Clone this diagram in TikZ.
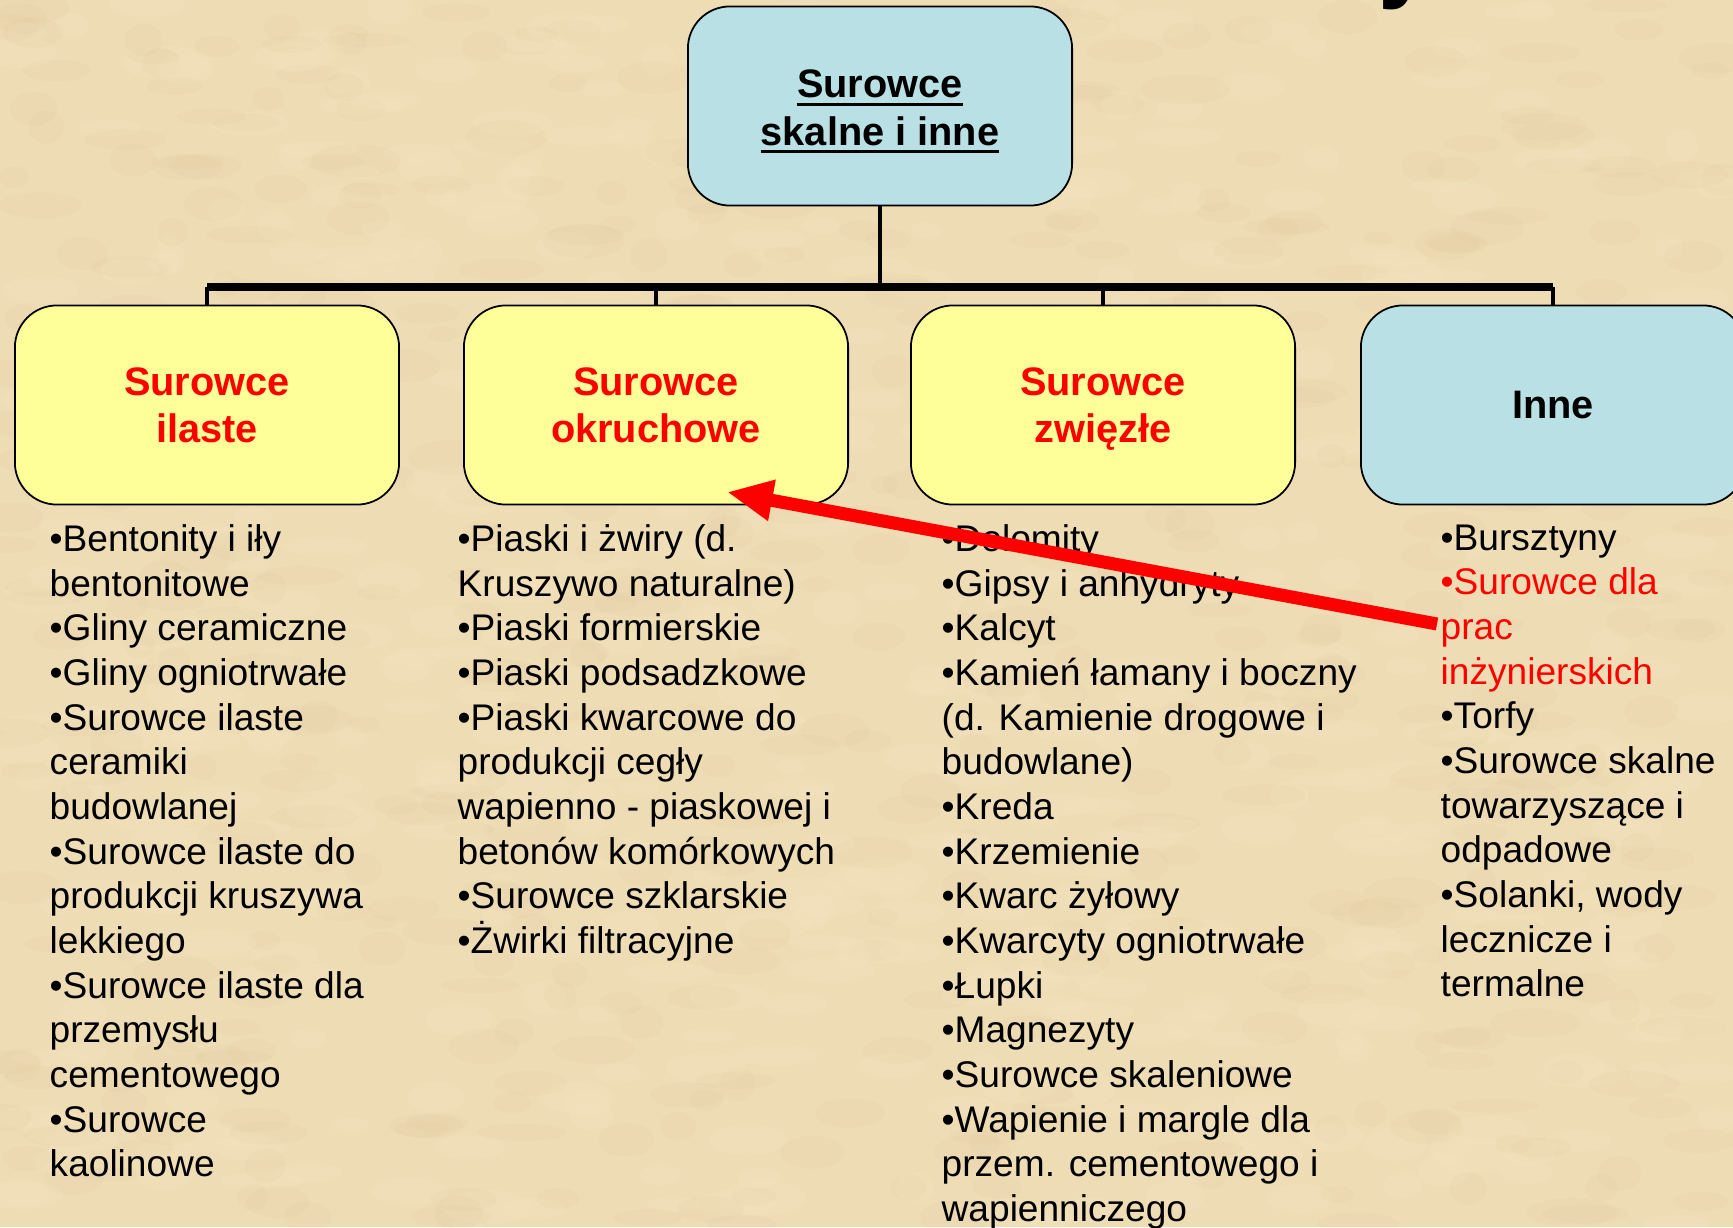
\documentclass[tikz,border=0pt]{standalone}
\usepackage{fontspec}
\setmainfont{Liberation Sans}
\usetikzlibrary{arrows.meta,positioning,calc}
\definecolor{tlo}{RGB}{238,220,180}
\definecolor{tlojasne}{RGB}{250,237,206}
\definecolor{tlociemne}{RGB}{214,188,142}
\definecolor{zolty}{RGB}{255,255,153}
\definecolor{blekit}{RGB}{185,224,228}
\newcommand{\podkresl}[1]{\vtop{\hbox{#1}\kern1.3pt\hrule height 0.85pt}}

\begin{document}
\begin{tikzpicture}[x=0.01cm, y=-0.01cm,
  kat/.style={draw=black, line width=0.5pt, rounded corners=0.42cm,
    minimum width=3.84cm, minimum height=1.99cm, inner sep=0pt,
    align=center, font=\fontsize{11.3}{13.5}\selectfont\bfseries},
  zolty/.style={kat, fill=zolty, text=red, text depth=0pt},
  niebieski/.style={kat, fill=blekit},
  lista/.style={anchor=north west, align=left, inner sep=0pt,
    font=\fontsize{10.55}{12.7}\selectfont},
  galaz/.style={line width=0.9pt},
  belka/.style={line width=2pt},
  strzalka/.style={red, line width=3.7pt, -{Triangle[length=13pt, width=11pt]}}]
\useasboundingbox (0,0) rectangle (1733,1227);
% ---- parchment background
\fill[tlo] (0,0) rectangle (1733,1227);
\pgfmathsetseed{11}
\foreach \i in {1,...,520}{
  \fill[tlociemne, opacity=0.08] ({rnd*1733},{rnd*1227})
    ellipse [x radius={4pt+rnd*9pt}, y radius={2pt+rnd*3pt}];
  \fill[tlojasne, opacity=0.12] ({rnd*1733},{rnd*1227})
    ellipse [x radius={4pt+rnd*9pt}, y radius={2pt+rnd*3pt}];
}
% ---- cut-off title
\node[anchor=base west, inner sep=0pt, font=\fontsize{28}{30}\selectfont\bfseries]
  (tytul) at (1378,-11) {y};
% ---- tree
\node[niebieski] (gora) at (880,106)
  {\rule{0pt}{11pt}\podkresl{Surowce}\\\podkresl{skalne i inne}};
\coordinate (szyna) at (880,287);
\node[zolty] (ilaste) at (207,405) {Surowce\\ilaste};
\node[zolty] (okruchowe) at (656,405) {Surowce\\okruchowe};
\node[zolty] (zwiezle) at (1103,405) {Surowce\\zwięzłe};
\node[niebieski] (inne) at (1553,405) {Inne};
\draw[galaz, line width=1.1pt] (gora.south) -- (gora.south |- szyna);
\draw[belka] (ilaste.north |- szyna) -- (inne.north |- szyna);
\foreach \k in {ilaste,okruchowe,zwiezle,inne}
  \draw[galaz] (\k.north) -- (\k.north |- szyna);
% ---- lists
\node[lista] (l1) at (49,524) {•Bentonity i iły\\bentonitowe\\•Gliny ceramiczne\\
  •Gliny ogniotrwałe\\•Surowce ilaste\\ceramiki\\budowlanej\\
  •Surowce ilaste do\\produkcji kruszywa\\lekkiego\\•Surowce ilaste dla\\
  przemysłu\\cementowego\\•Surowce\\kaolinowe};
\node[lista] (l2) at (457,524) {•Piaski i żwiry (d.\\Kruszywo naturalne)\\
  •Piaski formierskie\\•Piaski podsadzkowe\\•Piaski kwarcowe do\\
  produkcji cegły\\wapienno - piaskowej i\\betonów komórkowych\\
  •Surowce szklarskie\\•Żwirki filtracyjne};
\node[lista] (l3) at (941,524) {•Dolomity\\•Gipsy i anhydryty\\•Kalcyt\\
  •Kamień łamany i boczny\\(d. Kamienie drogowe i\\budowlane)\\•Kreda\\
  •Krzemienie\\•Kwarc żyłowy\\•Kwarcyty ogniotrwałe\\•Łupki\\•Magnezyty\\
  •Surowce skaleniowe\\•Wapienie i margle dla\\przem. cementowego i\\wapienniczego};
\node[lista] (l4) at (1440,524) {•Bursztyny\\\textcolor{red}{•Surowce dla}\\
  \textcolor{red}{prac}\\\textcolor{red}{inżynierskich}\\•Torfy\\•Surowce skalne\\
  towarzyszące i\\odpadowe\\•Solanki, wody\\lecznicze i\\termalne};
% ---- red arrow
\coordinate (ogon) at (1437,624);
\coordinate (grot) at (727,492);
\draw[strzalka] (ogon) -- (grot);
\end{tikzpicture}
\end{document}
